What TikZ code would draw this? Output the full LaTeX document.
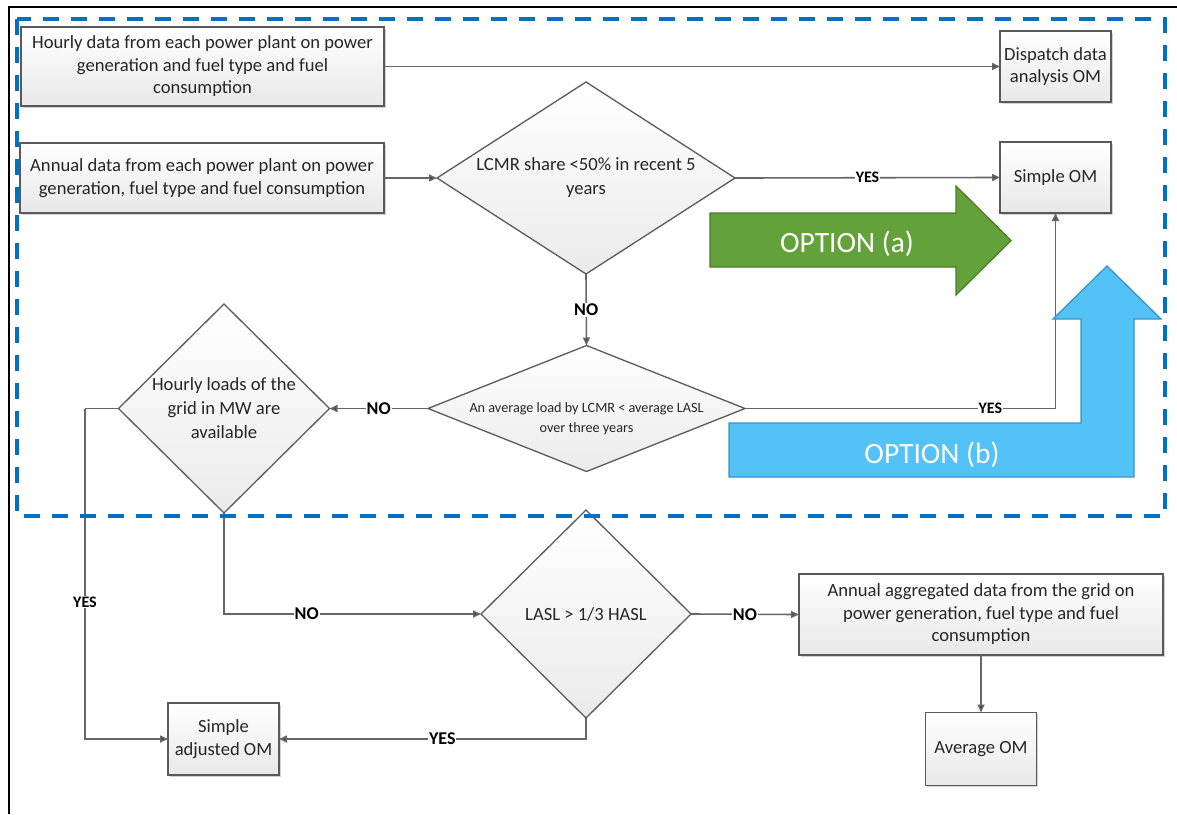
\documentclass[tikz,border=0pt]{standalone}
\usepackage{fontspec}
\setmainfont{Carlito}
\usetikzlibrary{shapes.geometric,arrows.meta,shadows}
\definecolor{boxline}{HTML}{5A5A5A}
\definecolor{conn}{HTML}{666666}
\definecolor{tipc}{HTML}{404040}
\definecolor{txt}{HTML}{262626}
\definecolor{dashblue}{HTML}{0070C0}
\definecolor{greenf}{HTML}{63A23A}
\definecolor{greend}{HTML}{4A7D28}
\definecolor{bluef}{HTML}{53C2F6}
\definecolor{blued}{HTML}{3D93C3}
\tikzset{
  box/.style={rectangle, draw=boxline, line width=1.3pt, top color=white, bottom color=black!9,
    drop shadow={shadow xshift=1.5pt, shadow yshift=-1.5pt, opacity=0.35},
    inner sep=0pt, outer sep=0pt, align=center, text=txt,
    font=\fontsize{18.6}{22.5}\selectfont},
  dia/.style={diamond, draw=boxline, line width=1.3pt, top color=white, bottom color=black!8,
    inner sep=0pt, outer sep=0pt},
  dtext/.style={align=center, text=txt, inner sep=0pt, font=\fontsize{18.6}{24}\selectfont},
  conn/.style={draw=conn, line width=1.6pt, -{Triangle[length=8pt,width=7pt,fill=tipc]}},
  plain/.style={draw=conn, line width=1.6pt},
  lab/.style={fill=white, inner sep=0.8pt, text=black, font=\bfseries\fontsize{18}{20}\selectfont},
  slab/.style={fill=white, inner sep=0.8pt, text=black, font=\bfseries\fontsize{16}{18}\selectfont},
  opt/.style={text=white, font=\fontsize{29.5}{32}\selectfont, inner sep=0pt}
}
\begin{document}
\begin{tikzpicture}[x=1pt,y=-1pt]
\useasboundingbox (0,0) rectangle (1177,814);
\fill[white] (0,0) rectangle (1177,814);
% outer frame (top and left)
\draw[black, line width=2pt] (8.5,814) -- (8.5,7) -- (1177,7);

% boxes
\node[box, minimum width=363pt, minimum height=79pt] (h1) at (202.5,66.5)
  {Hourly data from each power plant on power\\generation and fuel type and fuel\\consumption};
\node[box, minimum width=364pt, minimum height=70pt] (a1) at (202,178)
  {Annual data from each power plant on power\\generation, fuel type and fuel consumption};
\node[box, minimum width=111pt, minimum height=71pt] (disp) at (1055.5,66.5)
  {Dispatch data\\analysis OM};
\node[box, minimum width=111pt, minimum height=71pt] (som) at (1055.5,177.5)
  {Simple OM};
\node[box, minimum width=364pt, minimum height=81pt] (agg) at (981,614.5)
  {Annual aggregated data from the grid on\\power generation, fuel type and fuel\\consumption};
\node[box, minimum width=111pt, minimum height=73pt] (avg) at (981,749)
  {Average OM};
\node[box, minimum width=111pt, minimum height=72pt] (sadj) at (223.5,739)
  {Simple\\adjusted OM};

% diamonds
\node[dia, minimum width=298pt, minimum height=192pt,
  label={[dtext]center:{LCMR share <50\% in recent 5\\years}}] (d1) at (586,178) {};
\node[dia, minimum width=317pt, minimum height=126pt,
  label={[dtext, yshift=-10pt, font=\fontsize{14.2}{20.5}\selectfont]center:{An average load by LCMR < average LASL\\over three years}}] (d2) at (586.5,408.5) {};
\node[dia, minimum width=211pt, minimum height=209pt,
  label={[dtext]center:{Hourly loads of the\\grid in MW are\\available}}] (d3) at (224,408.5) {};
\node[dia, minimum width=210pt, minimum height=208pt,
  label={[dtext]center:{LASL > 1/3 HASL}}] (d4) at (586,614) {};

% corner coordinates
\coordinate (c1) at (85,408.5);

% connectors
\draw[conn] (h1.east) -- (disp.west);
\draw[conn] (a1.east) -- (d1.west);
\draw[conn] (d1.east) -- node[slab]{YES} (som.west);
\draw[conn] (d1.south) -- node[lab]{NO} (d2.north);
\draw[conn] (d2.west) -- node[lab]{NO} (d3.east);
\draw[conn] (d2.east) -| node[slab, pos=0.395]{YES} (som.south);
\draw[plain] (d3.west) -- (c1);
\draw[conn] (c1) |- node[slab, pos=0.293]{YES} (sadj.west);
\draw[conn] (d3.south) |- node[lab, pos=0.661]{NO} (d4.west);
\draw[conn] (d4.east) -- node[lab]{NO} (agg.west);
\draw[conn] (d4.south) |- node[lab, pos=0.734]{YES} (sadj.east);
\draw[conn] (agg.south) -- (avg.north);

% option arrows
\draw[fill=greenf, draw=greend, line width=1.3pt]
  (710,213) -- (956,213) -- (956,186) -- (1011,240.5) -- (956,295) -- (956,267) -- (710,267) -- cycle;
\node[opt] (opta) at (847,244) {OPTION (a)};
\draw[fill=bluef, draw=blued, line width=1.3pt]
  (729,423) -- (1081,423) -- (1081,319) -- (1053,319) -- (1107,266) -- (1161,319) -- (1134,319) -- (1134,477) -- (729,477) -- cycle;
\node[opt] (optb) at (932,455) {OPTION (b)};

% dashed region
\draw[dashblue, line width=3.4pt, dash pattern=on 16pt off 12pt] (17,19) rectangle (1165,516);
\end{tikzpicture}
\end{document}
